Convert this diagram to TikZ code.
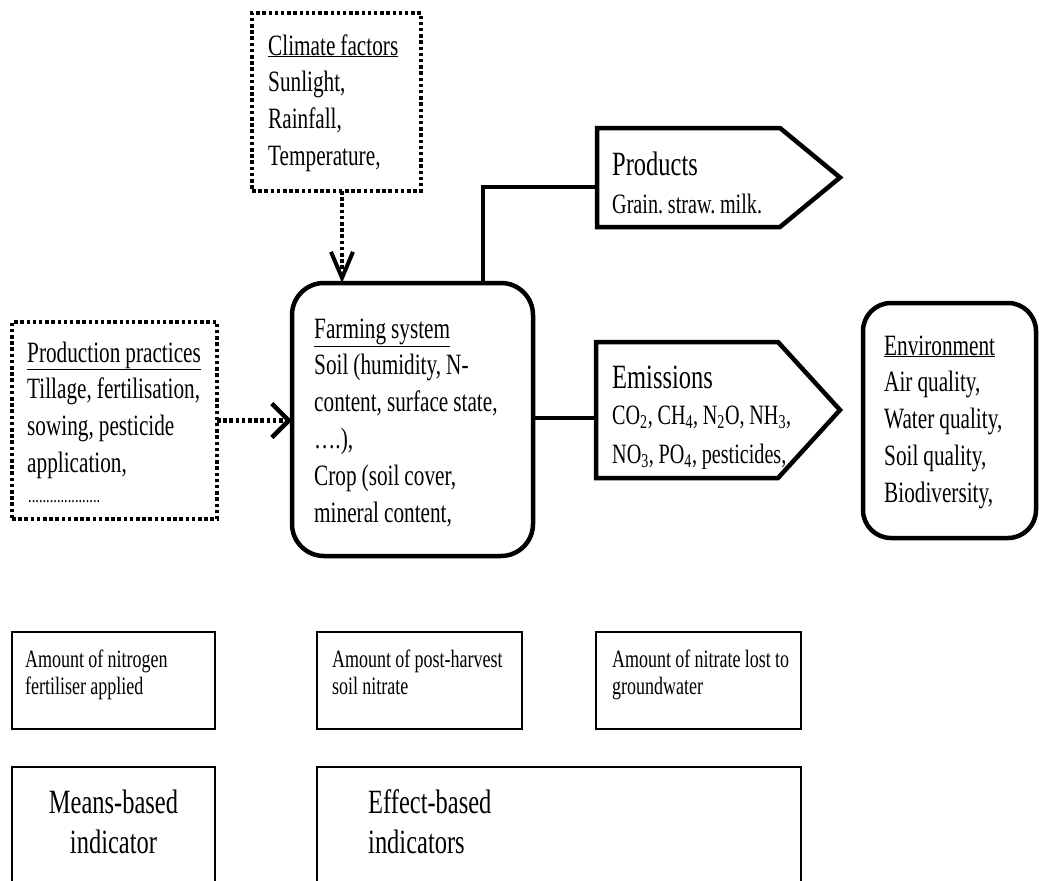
\documentclass[tikz,border=0pt]{standalone}
\usepackage{fontspec}
\setmainfont{Liberation Serif}[FakeStretch=0.72]
\usetikzlibrary{arrows.meta,calc}
\newcommand{\tightsp}{\frenchspacing\spaceskip=0.17em plus 0.05em minus 0.03em\xspaceskip=0.17em\relax}
\begin{document}
\begin{tikzpicture}[x=1pt,y=-1pt,
  frame/.style={inner sep=0pt, outer sep=0pt, anchor=north west},
  heavy/.style={line width=4.5pt},
  dotrule/.style={line width=4.2pt, dash pattern=on 3.5pt off 2.7pt},
  lightrule/.style={line width=2.6pt},
  txt/.style={anchor=base west, inner sep=0pt, align=left, text width=320pt, execute at begin node=\tightsp},
  ctxt/.style={anchor=base, inner sep=0pt, align=center, text width=200pt, execute at begin node=\tightsp},
  body/.style={font=\fontsize{29.5}{36.8}\selectfont},
  head/.style={font=\fontsize{34}{38}\selectfont},
  subtext/.style={font=\fontsize{28}{39}\selectfont},
  smalltext/.style={font=\fontsize{25}{27}\selectfont},
  bigtext/.style={font=\fontsize{34}{40}\selectfont},
]
\useasboundingbox (0,0) rectangle (1039,881);
\fill[white] (0,0) rectangle (1039,881);
\clip (0,0) rectangle (1039,881);

% boxes
\node[frame, draw, dotrule, minimum width=169, minimum height=178] (clim) at (252,13) {};
\node[frame, draw, dotrule, minimum width=205, minimum height=197] (prod) at (12,322) {};
\node[frame, draw, heavy, rounded corners=32pt, minimum width=241, minimum height=273] (farm) at (292,283) {};
\node[frame, draw, heavy, rounded corners=28pt, minimum width=173, minimum height=235] (env) at (863,303) {};
\node[frame, minimum width=183, minimum height=99] (products) at (597,128) {};
\draw[heavy, line join=miter] (products.north west) -- (products.north east) -- ($(products.east)+(60,0)$) -- (products.south east) -- (products.south west) -- cycle;
\node[frame, minimum width=182, minimum height=136] (emis) at (596,342) {};
\draw[heavy, line join=miter] (emis.north west) -- (emis.north east) -- ($(emis.east)+(62,0)$) -- (emis.south east) -- (emis.south west) -- cycle;

\node[frame, draw, lightrule, minimum width=203, minimum height=97] (amt1) at (12,632) {};
\node[frame, draw, lightrule, minimum width=205, minimum height=97] (amt2) at (317,632) {};
\node[frame, draw, lightrule, minimum width=205, minimum height=97] (amt3) at (596,632) {};
\node[frame, draw, lightrule, minimum width=203, minimum height=150] (means) at (12,767) {};
\node[frame, draw, lightrule, minimum width=484, minimum height=150] (effect) at (317,767) {};

% texts
\node[txt, body] (climtxt) at (268,55) {\underline{Climate factors}\\Sunlight,\\Rainfall,\\Temperature,};
\node[txt, body] (prodtxt) at (27,362) {\underline{Production practices}\\Tillage, fertilisation,\\sowing, pesticide\\application,};
\node[txt, font=\fontsize{20}{20}\selectfont] (proddots) at (28,502) {....................};
\node[txt, body] (farmtxt) at (314,338) {\underline{Farming system}\\Soil (humidity, N-\\content, surface state,\\\ldots.),\\Crop (soil cover,\\mineral content,};
\node[txt, head] (prodhead) at (612,175) {Products};
\node[txt, subtext] (prodbody) at (612,213) {Grain. straw. milk.};
\node[txt, head] (emishead) at (612,388) {Emissions};
\node[txt, subtext] (emisbody) at (612,424) {CO\textsubscript{2}, CH\textsubscript{4}, N\textsubscript{2}O, NH\textsubscript{3},\\NO\textsubscript{3}, PO\textsubscript{4}, pesticides,};
\node[txt, body] (envtxt) at (884,355) {\underline{Environment}\\Air quality,\\Water quality,\\Soil quality,\\Biodiversity,};
\node[txt, smalltext] (amt1txt) at (25,667) {Amount of nitrogen\\fertiliser applied};
\node[txt, smalltext] (amt2txt) at (332,667) {Amount of post-harvest\\soil nitrate};
\node[txt, smalltext] (amt3txt) at (612,667) {Amount of nitrate lost to\\groundwater};
\node[ctxt, bigtext] (meanstxt) at (113.5,813) {Means-based\\indicator};
\node[txt, bigtext] (efftxt) at (368,813) {Effect-based\\indicators};

% connectors
\draw[dotrule, -{Straight Barb[length=26pt,width=22pt,line width=4pt]}] ([xshift=5.5pt]clim.south) -- ([xshift=5.5pt]clim.south |- farm.north);
\draw[dotrule, -{Straight Barb[length=17pt,width=34pt,line width=4.5pt]}] (prod.east) -- (prod.east -| farm.west);
\draw[heavy] ([xshift=70.5pt]farm.north) |- ([yshift=-9.5pt]products.west);
\draw[heavy] ([yshift=-8pt]emis.west) -- ([yshift=-8pt]emis.west -| farm.east);
\end{tikzpicture}
\end{document}
